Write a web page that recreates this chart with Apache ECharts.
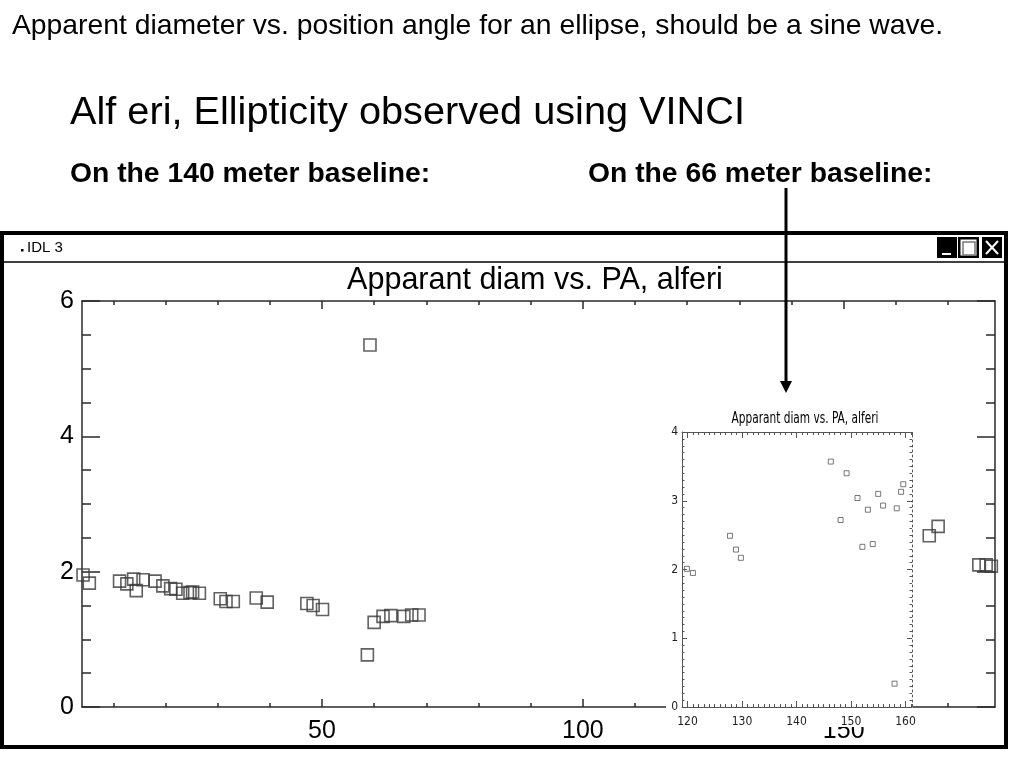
<!DOCTYPE html>
<html><head><meta charset="utf-8">
<script src="https://cdn.jsdelivr.net/npm/echarts@6/dist/echarts.min.js"></script>
<style>html,body{margin:0;padding:0;background:#fff}#c{width:1024px;height:768px}</style>
</head><body><div id="c"></div>
<script>
// ---- Main plot: 140 m baseline (position angle, apparent diameter) ----
const mainPA   = [4.2, 5.4, 11.2, 12.6, 13.9, 14.4, 15.7, 18.0, 19.5, 21.0, 22.0, 23.3, 24.7, 25.2, 26.5, 30.5, 31.6, 33.0, 37.4, 39.5, 47.1, 48.3, 50.1, 58.7, 59.2, 60.0, 61.7, 63.2, 65.7, 67.2, 68.6, 166.4, 168.1, 175.9, 177.3, 178.3];
const mainDiam = [1.95, 1.83, 1.86, 1.82, 1.89, 1.72, 1.88, 1.86, 1.79, 1.75, 1.74, 1.68, 1.69, 1.70, 1.68, 1.60, 1.56, 1.56, 1.61, 1.55, 1.53, 1.50, 1.44, 0.77, 5.35, 1.25, 1.34, 1.35, 1.34, 1.36, 1.36, 2.53, 2.67, 2.10, 2.10, 2.08];

// ---- Inset plot: 66 m baseline ----
const insetPA   = [119.9, 121.0, 127.8, 128.9, 129.8, 146.3, 148.1, 149.2, 151.2, 152.1, 153.1, 154.0, 155.0, 155.9, 158.0, 158.4, 159.2, 159.6];
const insetDiam = [2.01, 1.95, 2.49, 2.29, 2.17, 3.57, 2.72, 3.40, 3.04, 2.33, 2.87, 2.37, 3.10, 2.93, 0.34, 2.89, 3.13, 3.24];

// ---- Tick values ----
const mainMinorTicks  = [10, 20, 30, 40, 60, 70, 80, 90, 110, 120, 130, 140, 160, 170];
const mainMajorTicks  = [50, 100, 150];
const insetMajorTicks = [120, 130, 140, 150, 160];

// ---- Texts ----
const slideNote   = 'Apparent diameter vs. position angle for an ellipse, should be a sine wave.';
const slideTitle  = 'Alf eri, Ellipticity observed using VINCI';
const label140    = 'On the 140 meter baseline:';
const label66     = 'On the 66 meter baseline:';
const plotTitle   = 'Apparant diam vs. PA, alferi';
const windowTitle = 'IDL 3';

const AX = '#2a2a2a';
const IAX = '#555';
const MAINFONT = '"Liberation Sans", Arial, sans-serif';
const NARROW = '"Liberation Sans Narrow", "DejaVu Sans Condensed", sans-serif';

function mainXAxis(position, major, showLabel) {
  return {
    type: 'value', gridIndex: 0, position: position, min: 4, max: 179,
    axisLine: { show: !major, onZero: false, lineStyle: { color: AX, width: 1.5 } },
    axisTick: { show: true, inside: true, length: major ? 8 : 4,
      customValues: major ? mainMajorTicks : mainMinorTicks,
      lineStyle: { color: AX, width: 1.5 } },
    axisLabel: { show: showLabel, customValues: mainMajorTicks, fontSize: 25,
      fontFamily: MAINFONT, color: '#000', margin: 12 },
    splitLine: { show: false }
  };
}
function mainYAxis(position, showLabel) {
  return {
    type: 'value', gridIndex: 0, position: position, min: 0, max: 6, interval: 2,
    axisLine: { show: true, onZero: false, lineStyle: { color: AX, width: 1.5 } },
    axisTick: { show: true, inside: true, length: 18, lineStyle: { color: AX, width: 1.5 } },
    minorTick: { show: true, splitNumber: 4, length: 9, lineStyle: { color: AX, width: 1.5 } },
    axisLabel: { show: showLabel, fontSize: 25, fontFamily: MAINFONT, color: '#000', margin: 8 },
    splitLine: { show: false }
  };
}
function insetXAxis(position, major, showLabel) {
  const ax = {
    type: 'value', gridIndex: 1, position: position, min: 119, max: 161.2, z: 4,
    axisLine: { show: !major, onZero: false, lineStyle: { color: IAX, width: 1 } },
    axisTick: { show: true, inside: true, length: major ? 6 : 3, lineStyle: { color: IAX, width: 1 } },
    axisLabel: { show: showLabel, customValues: insetMajorTicks, fontSize: 12,
      fontFamily: NARROW, color: '#222', margin: 9 },
    splitLine: { show: false }
  };
  if (major) ax.axisTick.customValues = insetMajorTicks; else ax.interval = 1;
  return ax;
}
function insetYAxis(position, showLabel, dotted) {
  return {
    type: 'value', gridIndex: 1, position: position, min: 0, max: 4, interval: 1, z: 4,
    axisLine: { show: true, onZero: false, lineStyle: { color: IAX, width: 1, type: dotted ? [2, 3] : 'solid' } },
    axisTick: { show: true, inside: true, length: 5, lineStyle: { color: IAX, width: 1 } },
    minorTick: { show: true, splitNumber: 10, length: 2.5, lineStyle: { color: IAX, width: 1 } },
    axisLabel: { show: showLabel, fontSize: 12, fontFamily: NARROW, color: '#222', margin: 4 },
    splitLine: { show: false }
  };
}

const chart = echarts.init(document.getElementById('c'), null, { renderer: 'canvas', width: 1024, height: 768 });

const txt = (text, x, y, font, align, z) => ({
  type: 'text', z: z || 20, silent: true,
  style: { text: text, x: x, y: y, font: font, fill: '#000',
    textAlign: align || 'left', align: align || 'left',
    textVerticalAlign: 'middle', verticalAlign: 'middle' }
});

const insetTitle = txt(plotTitle, 0, 0, '12px ' + NARROW, 'center', 6);
insetTitle.x = 805; insetTitle.y = 419; insetTitle.scaleX = 0.98; insetTitle.scaleY = 1.25;

const option = {
  animation: false,
  backgroundColor: '#fff',
  grid: [
    { left: 82, right: 29, top: 301, bottom: 61 },
    { left: 682, right: 112, top: 432, bottom: 61, z: 4 }
  ],
  xAxis: [
    mainXAxis('bottom', false, false),
    mainXAxis('bottom', true, true),
    mainXAxis('top', false, false),
    mainXAxis('top', true, false),
    insetXAxis('bottom', false, false),
    insetXAxis('bottom', true, true),
    insetXAxis('top', false, false),
    insetXAxis('top', true, false)
  ],
  yAxis: [
    mainYAxis('left', true),
    mainYAxis('right', false),
    insetYAxis('left', true, false),
    insetYAxis('right', false, true)
  ],
  series: [
    {
      type: 'scatter', xAxisIndex: 0, yAxisIndex: 0, z: 2, silent: true,
      data: mainPA.map((x, i) => [x, mainDiam[i]]),
      symbol: 'rect', symbolSize: 12,
      itemStyle: { color: 'rgba(0,0,0,0)', borderColor: '#3a3a3a', borderWidth: 1.6 }
    },
    {
      type: 'scatter', xAxisIndex: 4, yAxisIndex: 2, z: 6, silent: true,
      data: insetPA.map((x, i) => [x, insetDiam[i]]),
      symbol: 'rect', symbolSize: 5,
      itemStyle: { color: 'rgba(0,0,0,0)', borderColor: '#444', borderWidth: 0.9 }
    }
  ],
  graphic: { elements: [
    // inset background (pasted 66 m plot)
    { type: 'rect', z: 3, silent: true, shape: { x: 666, y: 408, width: 247, height: 319 }, style: { fill: '#fff' } },
    insetTitle,
    // main plot title
    txt(plotTitle, 535, 281, '30.5px ' + MAINFONT, 'center', 5),
    // slide texts
    txt(slideNote, 12, 26, '28.3px ' + MAINFONT, 'left'),
    txt(slideTitle, 70, 113, '39.7px ' + MAINFONT, 'left'),
    txt(label140, 70, 174, 'bold 28.3px ' + MAINFONT, 'left'),
    txt(label66, 588, 174, 'bold 28.3px ' + MAINFONT, 'left'),
    // window frame
    { type: 'rect', z: 15, silent: true, shape: { x: 2, y: 233, width: 1004, height: 514 }, style: { fill: 'none', stroke: '#000', lineWidth: 4 } },
    { type: 'line', z: 15, silent: true, shape: { x1: 2, y1: 262, x2: 1006, y2: 262 }, style: { stroke: '#000', lineWidth: 1.5 } },
    { type: 'rect', z: 15, silent: true, shape: { x: 21, y: 249, width: 2.5, height: 2.5 }, style: { fill: '#000' } },
    txt(windowTitle, 27, 248, '15px ' + MAINFONT, 'left', 16),
    // minimize
    { type: 'rect', z: 15, silent: true, shape: { x: 937, y: 237, width: 20, height: 21 }, style: { fill: '#000' } },
    { type: 'rect', z: 16, silent: true, shape: { x: 942, y: 253, width: 9, height: 2 }, style: { fill: '#fff' } },
    // maximize
    { type: 'rect', z: 15, silent: true, shape: { x: 958, y: 237, width: 21, height: 21 }, style: { fill: '#000' } },
    { type: 'rect', z: 16, silent: true, shape: { x: 960.5, y: 239.5, width: 16, height: 16 }, style: { fill: '#fff' } },
    { type: 'rect', z: 17, silent: true, shape: { x: 963, y: 242, width: 12, height: 13 }, style: { fill: 'none', stroke: '#777', lineWidth: 1.5 } },
    // close
    { type: 'rect', z: 15, silent: true, shape: { x: 982, y: 237, width: 20, height: 21 }, style: { fill: '#000' } },
    { type: 'line', z: 16, silent: true, shape: { x1: 986, y1: 241, x2: 998, y2: 254 }, style: { stroke: '#fff', lineWidth: 2 } },
    { type: 'line', z: 16, silent: true, shape: { x1: 998, y1: 241, x2: 986, y2: 254 }, style: { stroke: '#fff', lineWidth: 2 } },
    // arrow
    { type: 'line', z: 20, silent: true, shape: { x1: 786, y1: 188, x2: 786, y2: 383 }, style: { stroke: '#000', lineWidth: 3 } },
    { type: 'polygon', z: 20, silent: true, shape: { points: [[780, 381], [792, 381], [786, 393]] }, style: { fill: '#000' } }
  ] }
};
chart.setOption(option);
</script>
</body></html>
